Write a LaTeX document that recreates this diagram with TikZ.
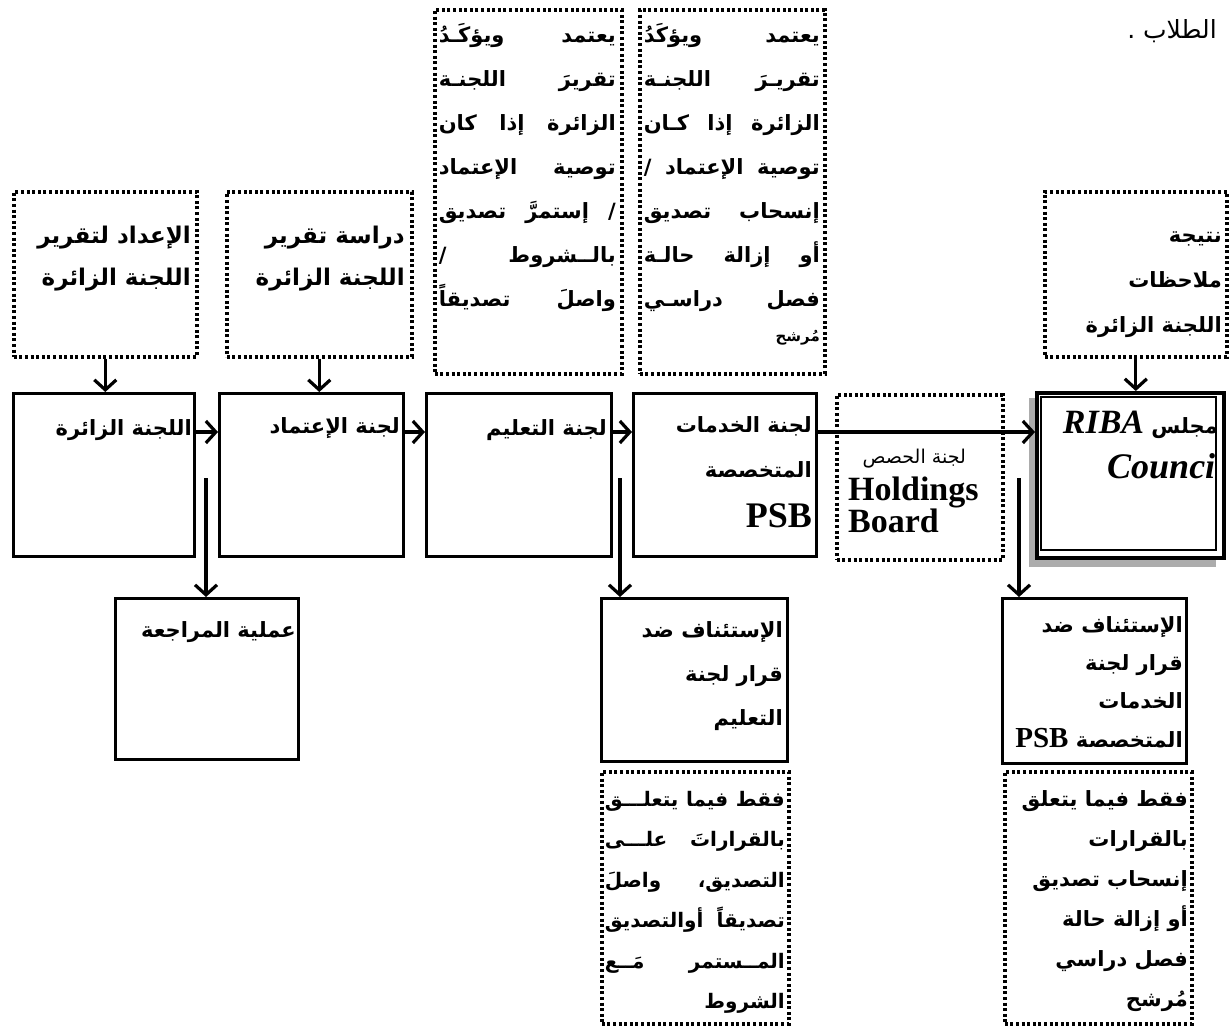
\documentclass[tikz,border=0pt]{standalone}
\usepackage{fontspec}
\setmainfont{Liberation Serif}
\newfontfamily\arabicfont[Script=Arabic]{DejaVu Sans}
\TeXXeTstate=1
\usetikzlibrary{arrows.meta}
\newcommand\arl[1]{\beginR #1\endR}
\newcommand\arj[2]{\hbox to #1{\beginR #2\endR}}
\hbadness=10000
\tikzset{
  sbox/.style={draw, line width=3.2pt, rectangle, inner sep=0pt, anchor=north west},
  dbox/.style={draw, line width=3.6pt, dash pattern=on 3pt off 2.6pt, rectangle, inner sep=0pt, anchor=north west},
  atxt/.style={font=\arabicfont\bfseries\fontsize{21}{24}\selectfont, inner sep=0pt, anchor=base east},
  anarrow/.style={font=\arabicfont\bfseries\fontsize{20}{24}\selectfont, inner sep=0pt, anchor=base east},
  asmall/.style={font=\arabicfont\bfseries\fontsize{15}{17}\selectfont, inner sep=0pt, anchor=base east},
  ltxt/.style={font=\bfseries\fontsize{34}{36}\selectfont, inner sep=0pt},
  arr/.style={line width=3.2pt, -{Straight Barb[length=10pt,width=22pt,line width=3.2pt]}},
}
\begin{document}
\begin{tikzpicture}[x=1pt,y=-1pt]
\useasboundingbox[fill=white] (0,0) rectangle (1230,1028);

% ---------- top dotted boxes
\node[dbox, minimum width=183, minimum height=165] (t1) at (12,190) {};
\node[dbox, minimum width=185, minimum height=165] (t2) at (225,190) {};
\node[dbox, minimum width=187, minimum height=364] (t3) at (433,8) {};
\node[dbox, minimum width=185, minimum height=364] (t4) at (638,8) {};
\node[dbox, minimum width=182, minimum height=165] (t5) at (1043,190) {};

\node[atxt, font=\arabicfont\bfseries\fontsize{23}{26}\selectfont] (t1a) at (191,243) {\arl{الإعداد لتقرير}};
\node[atxt, font=\arabicfont\bfseries\fontsize{23}{26}\selectfont] (t1b) at (191,285) {\arl{اللجنة الزائرة}};
\node[atxt, font=\arabicfont\bfseries\fontsize{23}{26}\selectfont] (t2a) at (405,243) {\arl{دراسة تقرير}};
\node[atxt, font=\arabicfont\bfseries\fontsize{23}{26}\selectfont] (t2b) at (405,285) {\arl{اللجنة الزائرة}};

\foreach \t [count=\i] in {{يعتمد ويؤكَـدُ},{تقريرَ اللجنـة},{الزائرة إذا كان},{توصية الإعتماد},{/ إستمرَّ تصديق},{بالــشروط /},{واصلَ تصديقاً}}
  \node[atxt] (t3l\i) at (616,{42+44*(\i-1)}) {\arj{177pt}{\t}};

\foreach \t [count=\i] in {{يعتمد ويؤكَدُ},{تقريـرَ اللجنـة},{الزائرة إذا كـان},{توصية الإعتماد /},{إنسحاب تصديق},{أو إزالة حالـة},{فصل دراسـي}}
  \node[atxt] (t4l\i) at (820,{42+44*(\i-1)}) {\arj{176pt}{\t}};
\node[asmall] (t4l8) at (820,341) {\arl{مُرشح}};

\foreach \t [count=\i] in {{نتيجة},{ملاحظات},{اللجنة الزائرة}}
  \node[atxt] (t5l\i) at (1222,{242+45*(\i-1)}) {\arl{\t}};

\node[anchor=base, inner sep=0pt, font=\arabicfont\fontsize{25}{28}\selectfont] (top) at (1172,38) {\arl{الطلاب .}};

% ---------- main row
\node[sbox, minimum width=181, minimum height=163] (m1) at (12,392) {};
\node[sbox, minimum width=184, minimum height=163] (m2) at (218,392) {};
\node[sbox, minimum width=185, minimum height=163] (m3) at (425,392) {};
\node[sbox, minimum width=183, minimum height=163] (m4) at (632,392) {};
\node[dbox, minimum width=166, minimum height=165] (m5) at (835,393) {};
% RIBA council box with shadow
\fill[gray!65] (1029,398) rectangle (1216,567);
\node[sbox, fill=white, line width=3.6pt, minimum width=187, minimum height=165] (m6) at (1035,391) {};
\draw[line width=1.4pt] (1041,397) rectangle (1216,550);

\node[atxt] (m1t) at (192,435) {\arl{اللجنة الزائرة}};
\node[atxt] (m2t) at (400,433) {\arl{لجنة الإعتماد}};
\node[atxt] (m3t) at (607,435) {\arl{لجنة التعليم}};
\node[atxt] (m4a) at (812,432) {\arl{لجنة الخدمات}};
\node[atxt] (m4b) at (812,477) {\arl{المتخصصة}};
\node[ltxt, anchor=base east, font=\bfseries\fontsize{36}{38}\selectfont] (m4c) at (812,527) {PSB};
\node[asmall, font=\arabicfont\fontsize{19}{21}\selectfont] (m5a) at (966,463) {\arl{لجنة الحصص}};
\node[ltxt, anchor=base west] (m5b) at (848,500) {Holdings};
\node[ltxt, anchor=base west] (m5c) at (848,532) {Board};
\begin{scope}
  \clip (1042,398) rectangle (1216,549);
  \node[atxt] (m6a) at (1218,433) {\arl{مجلس \beginL{\bfseries\itshape\rmfamily\fontsize{34}{36}\selectfont RIBA}\endL}};
  \node[ltxt, anchor=base west, font=\bfseries\itshape\fontsize{36}{38}\selectfont] (m6b) at (1107,478) {Council};
\end{scope}

% ---------- bottom boxes
\node[sbox, minimum width=183, minimum height=161] (b1) at (114,597) {};
\node[sbox, minimum width=186, minimum height=163] (b2) at (600,597) {};
\node[dbox, minimum width=187, minimum height=252] (b3) at (600,770) {};
\node[sbox, minimum width=184, minimum height=165] (b4) at (1001,597) {};
\node[dbox, minimum width=187, minimum height=252] (b5) at (1003,770) {};

\node[atxt] (b1t) at (296,637) {\arl{عملية المراجعة}};
\foreach \t [count=\i] in {{الإستئناف ضد},{قرار لجنة},{التعليم}}
  \node[atxt] (b2l\i) at (783,{637+44*(\i-1)}) {\arl{\t}};
\foreach \t [count=\i] in {{الإستئناف ضد},{قرار لجنة},{الخدمات}}
  \node[atxt] (b4l\i) at (1183,{632+38*(\i-1)}) {\arl{\t}};
\node[atxt] (b4l4) at (1183,747) {\arl{المتخصصة \beginL{\rmfamily\bfseries\fontsize{29}{30}\selectfont PSB}\endL}};
\foreach \t [count=\i] in {{فقط فيما يتعلـــق},{بالقراراتَ علـــى},{التصديق، واصلَ},{تصديقاً أوالتصديق},{المــستمر مَــع}}
  \node[anarrow] (b3l\i) at (785,{806+40.5*(\i-1)}) {\arj{180pt}{\t}};
\node[anarrow] (b3l6) at (785,1008) {\arl{الشروط}};
\foreach \t [count=\i] in {{فقط فيما يتعلق},{بالقرارات},{إنسحاب تصديق},{أو إزالة حالة},{فصل دراسي},{مُرشح}}
  \node[atxt] (b5l\i) at (1188,{806+40*(\i-1)}) {\arl{\t}};

% ---------- connectors
\draw[arr] (t1.south) -- (t1.south |- m1.north);
\draw[arr] (t2.south) -- (t2.south |- m2.north);
\draw[arr] (t5.south) -- (t5.south |- m6.north);

\coordinate (h) at (0,432);
\draw[arr] (m1.east |- h) -- (m2.west |- h);
\draw[arr] (m2.east |- h) -- (m3.west |- h);
\draw[arr] (m3.east |- h) -- (m4.west |- h);
\draw[arr] (m4.east |- h) -- (m6.west |- h);

\coordinate (d1) at (206,478);
\coordinate (d2) at (620,478);
\coordinate (d3) at (1019,478);
\draw[arr] (d1) -- (d1 |- b1.north);
\draw[arr] (d2) -- (d2 |- b2.north);
\draw[arr] (d3) -- (d3 |- b4.north);
\end{tikzpicture}
\end{document}
